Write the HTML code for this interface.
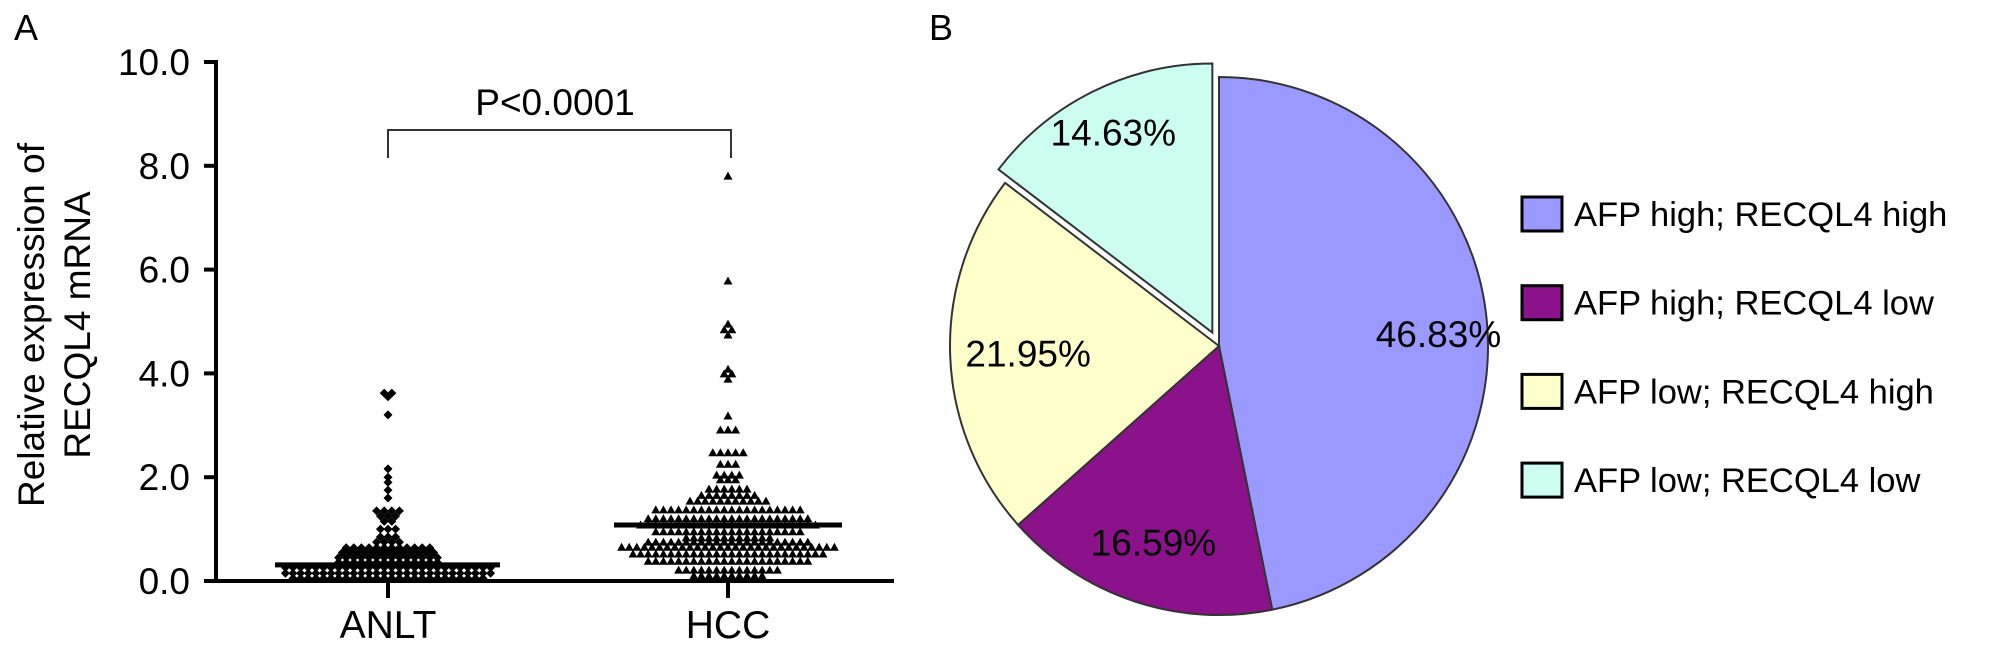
<!DOCTYPE html>
<html><head><meta charset="utf-8">
<style>
html,body{margin:0;padding:0;background:#fff;}
svg{display:block;font-family:"Liberation Sans",Arial,sans-serif;}
</style></head>
<body>
<svg id="fig" width="2008" height="654" viewBox="0 0 2008 654">
  <text x="14" y="40" font-size="36">A</text>
  <text x="929" y="40" font-size="36">B</text>
  <g id="scatter"></g>
  <g id="pie"></g>
  <g id="legend"></g>
</svg>
<script>
// ---------- Panel A data ----------
const groups = ["ANLT", "HCC"];
const yTicks = [0, 2, 4, 6, 8, 10];
const yTickLabels = ["0.0", "2.0", "4.0", "6.0", "8.0", "10.0"];
const anltLevels = [0.05, 0.15, 0.26, 0.36, 0.45, 0.55, 0.64, 0.75, 0.85, 1.0, 1.15, 1.25, 1.35, 1.6, 1.75, 1.9, 2.0, 2.16, 3.2, 3.55, 3.62];
const anltCounts = [26, 28, 28, 14, 14, 13, 12, 4, 3, 3, 2, 3, 4, 1, 1, 1, 1, 1, 1, 1, 2];
const hccLevels = [0.1, 0.21, 0.38, 0.52, 0.65, 0.75, 0.83, 0.95, 1.08, 1.2, 1.37, 1.54, 1.65, 1.77, 1.95, 2.04, 2.25, 2.47, 2.91, 3.18, 3.89, 3.99, 4.08, 4.74, 4.84, 4.95, 5.78, 7.8];
const hccCounts = [10, 14, 22, 26, 29, 22, 12, 20, 24, 22, 20, 11, 8, 6, 3, 4, 3, 5, 3, 1, 1, 2, 1, 1, 2, 1, 1, 1];
const anltMedian = 0.31;
const hccMedian = 1.08;
const pLabel = "P<0.0001";

// ---------- Panel B data ----------
const pieLabels = ["AFP high; RECQL4 high", "AFP high; RECQL4 low", "AFP low; RECQL4 high", "AFP low; RECQL4 low"];
const pieValues = [46.83, 16.59, 21.95, 14.63];
const pieColors = ["#9999FF", "#8B128A", "#FFFFCC", "#CCFFF0"];
const pieExplode = [0, 0, 0, 15];
const pieLabelR = [0.82, 0.77, 0.71, 0.83];
const pieLabelDy = [10, 0, 0, 0];

const NS = "http://www.w3.org/2000/svg";
function mk(tag, attrs, parent) {
  const e = document.createElementNS(NS, tag);
  for (const k in attrs) e.setAttribute(k, attrs[k]);
  parent.appendChild(e);
  return e;
}

// ---------- Scatter ----------
const sc = document.getElementById("scatter");
const Y0 = 581, YPX = 51.9, AX = 216;
const y = v => Y0 - v * YPX;
const groupX = [388, 728];
const x = i => groupX[i];

let el = mk("line", {x1: AX, y1: y(10) - 2, x2: AX, y2: Y0 + 2, stroke: "#000", "stroke-width": 4}, sc);


yTicks.forEach((t, i) => {
  const tk = mk("line", {x1: 204, y1: y(t), x2: AX, y2: y(t), stroke: "#000", "stroke-width": 4}, sc);
  
  
  const tl = mk("text", {x: 190, y: y(t) + 13, "font-size": 37, "text-anchor": "end"}, sc);
  tl.textContent = yTickLabels[i];
  
  
});
el = mk("line", {x1: 204, y1: Y0, x2: 894, y2: Y0, stroke: "#000", "stroke-width": 4}, sc);


groups.forEach((g, i) => {
  const tk = mk("line", {x1: x(i), y1: Y0, x2: x(i), y2: 598, stroke: "#000", "stroke-width": 4}, sc);
  
  
  const tl = mk("text", {x: x(i), y: 638, "font-size": 39, "text-anchor": "middle"}, sc);
  tl.textContent = g;
  
  
});
const yt = mk("text", {transform: "translate(44,325) rotate(-90)", "font-size": 37, "text-anchor": "middle"}, sc);


const t1 = mk("tspan", {x: 0, y: 0}, yt); t1.textContent = "Relative expression of";
const t2 = mk("tspan", {x: 0, y: 46}, yt); t2.textContent = "RECQL4 mRNA";

const SP = 7.6;
function drawGroup(gi, levels, counts, shape) {
  levels.forEach((v, li) => {
    const n = counts[li];
    for (let k = 0; k < n; k++) {
      const cx = x(gi) + (k - (n - 1) / 2) * SP;
      const cy = y(v);
      let p;
      if (shape === "diamond") {
        p = mk("polygon", {points: `${cx},${cy-4.5} ${cx+4.5},${cy} ${cx},${cy+4.5} ${cx-4.5},${cy}`, fill: "#000"}, sc);
        
      } else {
        p = mk("polygon", {points: `${cx},${cy-4.5} ${cx+4.5},${cy+3.5} ${cx-4.5},${cy+3.5}`, fill: "#000"}, sc);
        
      }
      
    }
  });
}
drawGroup(0, anltLevels, anltCounts, "diamond");
drawGroup(1, hccLevels, hccCounts, "triangle");

el = mk("line", {x1: 275, y1: y(anltMedian), x2: 500, y2: y(anltMedian), stroke: "#000", "stroke-width": 5}, sc);


el = mk("line", {x1: 614, y1: y(hccMedian), x2: 842, y2: y(hccMedian), stroke: "#000", "stroke-width": 5}, sc);



el = mk("polyline", {points: `${x(0)},158 ${x(0)},130 ${x(1)+3},130 ${x(1)+3},158`, fill: "none", stroke: "#333", "stroke-width": 2}, sc);


el = mk("text", {x: 555, y: 115, "font-size": 37, "text-anchor": "middle"}, sc);
el.textContent = pLabel;



// ---------- Pie ----------
const pie = document.getElementById("pie");
const CX = 1219, CY = 346, R = 269;
const total = pieValues.reduce((a, b) => a + b, 0);
let start = 0;
const pt = (a, r, ox, oy) => [ox + r * Math.sin(a), oy - r * Math.cos(a)];
pieValues.forEach((v, i) => {
  const a0 = start / total * 2 * Math.PI;
  const a1 = (start + v) / total * 2 * Math.PI;
  const am = (a0 + a1) / 2;
  const ox = CX + pieExplode[i] * Math.sin(am), oy = CY - pieExplode[i] * Math.cos(am);
  const p0 = pt(a0, R, ox, oy), p1 = pt(a1, R, ox, oy);
  const large = (a1 - a0) > Math.PI ? 1 : 0;
  const s = mk("path", {d: `M${ox},${oy} L${p0[0]},${p0[1]} A${R},${R} 0 ${large} 1 ${p1[0]},${p1[1]} Z`, fill: pieColors[i], stroke: "#333", "stroke-width": 2}, pie);
  
  
  const lp = pt(am, R * pieLabelR[i], ox, oy);
  const t = mk("text", {x: lp[0], y: lp[1] + 13 + pieLabelDy[i], "font-size": 37, "text-anchor": "middle"}, pie);
  t.textContent = v.toFixed(2) + "%";
  
  
  start += v;
});

// ---------- Legend ----------
const lg = document.getElementById("legend");
pieLabels.forEach((lab, i) => {
  const cy = 214 + i * 88.7;
  const b = mk("rect", {x: 1522, y: cy - 17, width: 40, height: 34, fill: pieColors[i], stroke: "#000", "stroke-width": 3}, lg);
  
  
  const t = mk("text", {x: 1574, y: cy + 12, "font-size": 34.5}, lg);
  t.textContent = lab;
  
  
});
</script>
</body></html>
